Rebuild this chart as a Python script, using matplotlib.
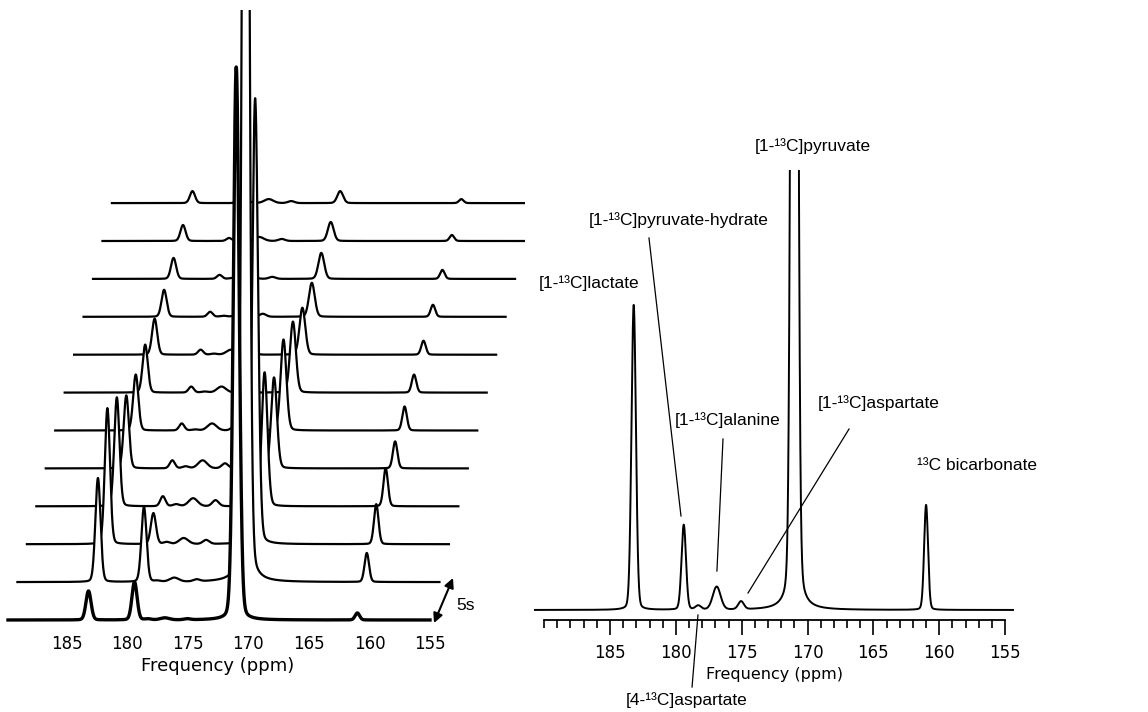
import numpy as np
import matplotlib
matplotlib.use("Agg")
import matplotlib.pyplot as plt

# chemical shifts of the resolved resonances (ppm)
peak_names = ["[1-¹³C]lactate", "[1-¹³C]pyruvate-hydrate", "[4-¹³C]aspartate",
              "[1-¹³C]alanine", "[1-¹³C]aspartate", "[1-¹³C]pyruvate", "¹³C bicarbonate"]
peak_ppm = [183.2, 179.4, 178.3, 176.9, 175.05, 171.0, 161.0]
peak_fwhm = [0.4, 0.4, 0.5, 0.7, 0.5, 0.45, 0.35]

# dynamic series, one value per spectrum (bottom = first, 5 s apart)
lactate_t = [29, 104, 136, 109, 73, 56, 48, 36, 27, 21, 16, 12]
hydrate_t = [38, 75, 31, 10, 8, 7, 6, 5, 5, 4, 3, 3]
asp4_t = [1, 1, 2, 2, 2, 1, 1, 1, 1, 1, 1, 1]
alanine_t = [2, 4, 6, 8, 8, 7, 6, 5, 4, 4, 4, 4]
asp1_t = [1, 2, 4, 6, 5, 4, 3, 3, 3, 2, 2, 2]
pyruvate_t = [553, 1500, 446, 134, 91, 91, 71, 47, 34, 26, 19, 12]
bicarb_t = [7, 29, 40, 38, 27, 24, 18, 14, 12, 9, 6, 4]

# summed spectrum (right panel)
summed_amp = [305, 85, 4, 23, 8, 2100, 105]

tick_ppm = [185, 180, 175, 170, 165, 160, 155]

W, H = 1148, 712


def px_axes(x0, x1, ytop, ybot):
    return [x0 / W, (H - ybot) / H, (x1 - x0) / W, (ybot - ytop) / H]


def lineshape(x, c, a, w, eta=0.12):
    d = (x - c) / w
    return a * ((1 - eta) * np.exp(-4 * np.log(2) * d ** 2) + eta / (1 + 4 * d ** 2))


def spectrum(x, amps, wscale=1.0):
    y = np.zeros_like(x)
    for c, a, w in zip(peak_ppm, amps, peak_fwhm):
        y += lineshape(x, c, a, w * wscale)
    return y


label_font = ["Liberation Sans", "DejaVu Sans"]
plt.rcParams["font.family"] = ["DejaVu Sans"]

fig = plt.figure(figsize=(W / 100, H / 100), dpi=100)

# ---- left: stacked time series ----
ppx = 12.11       # px per ppm
dx = 9.45 / ppx   # horizontal step between spectra (ppm)
dy = 37.9         # vertical step (px)
axl = fig.add_axes(px_axes(5, 540, 10, 625))
axl.set_xlim(185 + (66.7 - 5) / ppx, 185 - (540 - 66.7) / ppx)
axl.set_ylim(-5, 610)
grid = np.linspace(189.85, 155.0, 4000)
series = list(zip(lactate_t, hydrate_t, asp4_t, alanine_t, asp1_t, pyruvate_t, bicarb_t))
for k, amps in reversed(list(enumerate(series))):
    x = grid - k * dx
    y = k * dy + spectrum(grid, amps, wscale=1.25)
    axl.fill_between(x, k * dy, y, color="white", lw=0, zorder=2 * (20 - k))
    axl.plot(x, y, color="black", lw=2.4 if k == 0 else 1.6, zorder=2 * (20 - k) + 1,
             solid_joinstyle="round")
for s in axl.spines.values():
    s.set_visible(False)
axl.set_yticks([])
axl.set_xticks(tick_ppm)
axl.tick_params(axis="x", length=0, pad=7, labelsize=12)
axl.set_xlabel("Frequency (ppm)", fontsize=13, labelpad=3, x=0.398)
axl.annotate("", xy=(154.67, -3), xytext=(153.1, 42),
             arrowprops=dict(arrowstyle="<|-|>", color="black", lw=1.5,
                             mutation_scale=14, shrinkA=0, shrinkB=0),
             annotation_clip=False)
axl.text(152.1, 14, "5s", ha="center", va="center", fontsize=12.5, family=label_font)

# ---- right: summed spectrum ----
ppr = 13.17
axr = fig.add_axes(px_axes(525, 1025, 170, 620))
axr.set_xlim(185 + (610 - 525) / ppr, 185 - (1025 - 610) / ppr)
axr.set_ylim(-10, 440)
gr = np.linspace(190.7, 154.4, 4000)
axr.plot(gr, spectrum(gr, summed_amp), color="black", lw=1.4)
for side in ["top", "right", "left"]:
    axr.spines[side].set_visible(False)
axr.spines["bottom"].set_bounds(190, 155)
axr.spines["bottom"].set_linewidth(1.3)
axr.set_yticks([])
axr.set_xticks(tick_ppm)
axr.set_xticks(np.arange(155, 191, 1), minor=True)
axr.tick_params(axis="x", which="major", direction="out", length=11, width=1.2,
                pad=6, labelsize=12)
axr.tick_params(axis="x", which="minor", direction="out", length=6, width=1.2)
axr.set_xlabel("Frequency (ppm)", fontsize=11.5, labelpad=4)

# label centres and leader lines (data coords of the right panel)
label_xy = [(186.56, 327), (179.76, 390), (179.15, -90), (176.08, 190),
            (164.57, 207), (169.59, 464), (157.17, 145)]
leaders = {1: ((182.04, 372), (179.61, 94)),
           2: ((178.32, -5), (178.77, -77)),
           3: ((176.42, 171), (176.88, 39)),
           4: ((166.85, 181), (174.52, 17))}
for i, (name, (tx, ty)) in enumerate(zip(peak_names, label_xy)):
    axr.text(tx, ty, name, ha="center", va="center", fontsize=12.5,
             family=label_font, clip_on=False)
    if i in leaders:
        (x0, y0), (x1, y1) = leaders[i]
        axr.plot([x0, x1], [y0, y1], color="black", lw=0.9, clip_on=False)

fig.savefig("out.png", dpi=100)
